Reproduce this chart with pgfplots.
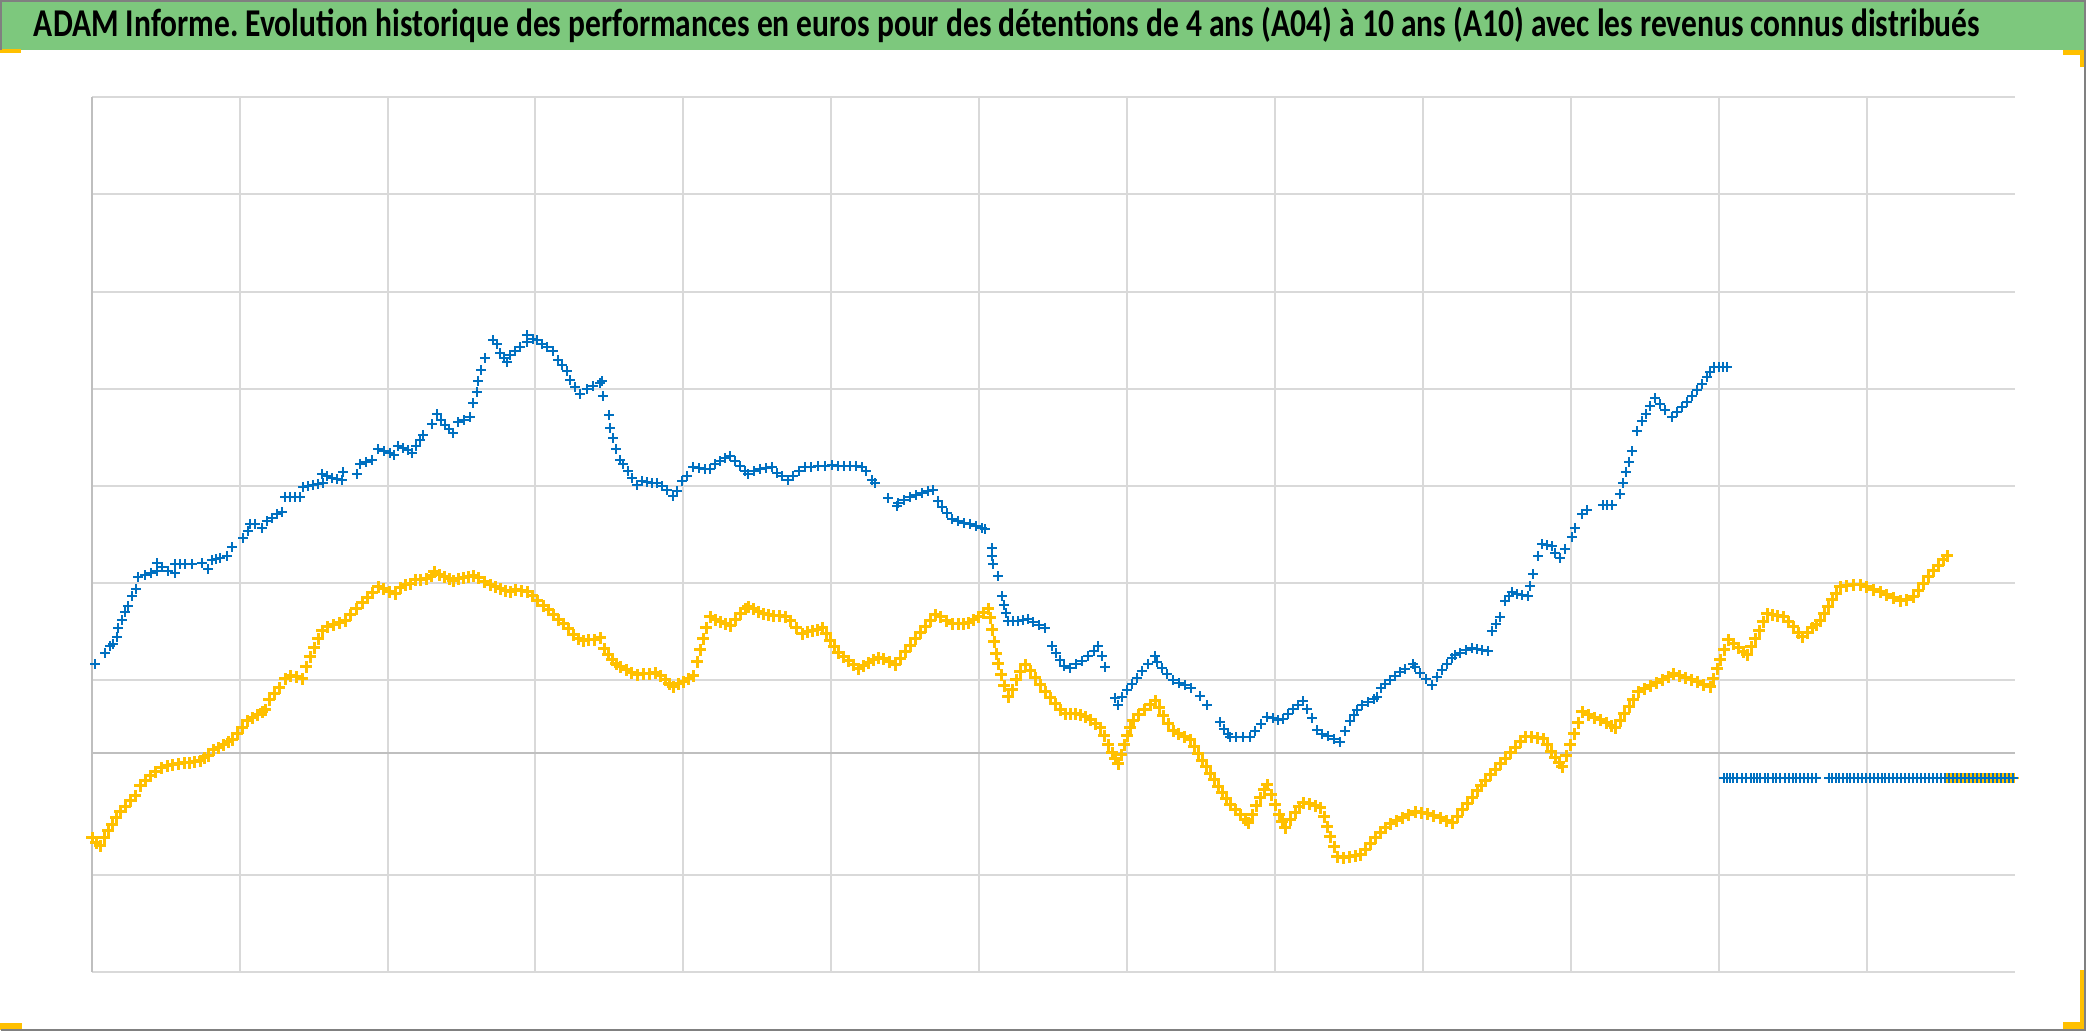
\documentclass[border=0pt]{standalone}
\usepackage{pgfplots}
\pgfplotsset{compat=1.18}
\usepackage{fontspec}
\usepackage{graphicx}
\newfontfamily\titlefont{Carlito}
\definecolor{titlegreen}{RGB}{125,200,125}
\definecolor{xlblue}{RGB}{0,112,192}
\definecolor{xlgold}{RGB}{255,192,0}
\definecolor{gridgray}{RGB}{217,217,217}
\definecolor{axisgray}{RGB}{191,191,191}
\definecolor{framegray}{RGB}{128,128,128}
\frenchspacing
\begin{document}
\begin{tikzpicture}
\useasboundingbox (0,0) rectangle (625.8pt,309.3pt);
\begin{scope}[x=0.3pt,y=0.3pt]
\fill[white] (0,0) rectangle (2086,1031);
\fill[titlegreen] (0,981) rectangle (2086,1031);
\node[anchor=base, inner sep=0pt] at (1007,994) {\resizebox{583.8pt}{!}{\scalebox{1}[1.25]{\titlefont\bfseries ADAM Informe. Evolution historique des performances en euros pour des détentions de 4 ans (A04) à 10 ans (A10) avec les revenus connus distribués}}};
\end{scope}
\begin{axis}[
  at={(27.6pt,17.7pt)}, anchor=south west,
  width=576.9pt, height=262.5pt, scale only axis,
  xmin=92, xmax=2015, ymin=97, ymax=972, y dir=reverse,
  axis line style={draw=none},
  xtick={240,388,535,683,831,979,1127,1275,1423,1571,1719,1867},
  ytick={97,194,292,389,486,583,680,875,972},
  xticklabels={}, yticklabels={},
  major tick length=0pt, tick style={draw=none},
  grid=major, grid style={color=gridgray, line width=0.45pt},
  extra x ticks={92}, extra y ticks={753},
  extra x tick labels={}, extra y tick labels={},
  extra tick style={grid=major, grid style={color=axisgray, line width=0.5pt}},
  clip=false,
]
\addplot[only marks, mark=+, mark size=1.7pt, color=xlgold, mark options={line width=0.9pt}] coordinates {
(92,838)(96,843)(100,846)(104,838)(108,831)(112,825)(116,818)(120,812)(125,807)(130,801)(135,796)(140,786)(145,781)(150,776)(155,772)(161,768)(167,766)(172,765)(178,764)(184,763)(189,763)(194,762)(200,761)(204,758)(208,756)(213,750)(218,748)(223,745)(228,742)(232,740)(237,734)(242,728)(247,721)(252,718)(257,715)(262,712)(265,710)(269,700)(274,694)(279,688)(285,679)(290,676)(296,677)(302,679)(306,667)(310,657)(314,648)(318,639)(322,631)(327,627)(333,625)(339,623)(345,621)(350,615)(356,609)(362,603)(367,598)(372,593)(378,587)(383,589)(389,592)(395,594)(400,588)(405,585)(410,584)(415,580)(420,580)(426,579)(431,576)(434,572)(439,575)(444,577)(449,579)(453,581)(458,579)(463,578)(468,577)(473,576)(478,578)(484,582)(490,585)(495,587)(500,589)(505,591)(510,592)(515,590)(521,591)(527,592)(532,596)(537,601)(543,606)(548,610)(553,615)(558,620)(563,624)(568,629)(573,635)(578,639)(583,641)(588,640)(594,640)(600,638)(604,649)(608,655)(612,660)(616,664)(620,667)(626,670)(631,673)(637,675)(643,674)(649,674)(655,673)(660,676)(665,680)(669,684)(673,687)(678,684)(683,682)(688,679)(693,676)(697,662)(700,650)(703,639)(706,628)(710,617)(715,620)(720,622)(725,624)(730,626)(735,620)(740,614)(745,609)(748,607)(753,609)(758,612)(763,614)(768,615)(773,616)(779,616)(785,617)(790,621)(796,628)(802,634)(807,632)(812,631)(817,630)(822,628)(826,634)(830,641)(834,647)(838,653)(843,657)(848,661)(853,665)(858,669)(863,666)(868,663)(873,660)(878,658)(883,659)(889,662)(895,665)(900,659)(905,652)(910,646)(915,639)(920,633)(925,627)(930,621)(935,615)(940,617)(946,621)(952,624)(958,624)(963,624)(968,623)(973,620)(978,617)(983,613)(988,609)(990,618)(992,630)(994,642)(996,654)(998,664)(1001,675)(1004,686)(1008,697)(1012,690)(1016,680)(1020,672)(1025,665)(1030,671)(1035,678)(1040,685)(1045,692)(1050,698)(1055,704)(1060,710)(1065,714)(1070,714)(1075,714)(1080,715)(1085,717)(1090,720)(1095,724)(1100,728)(1104,736)(1108,745)(1112,753)(1115,759)(1118,764)(1121,755)(1124,745)(1127,736)(1130,728)(1133,721)(1138,715)(1144,710)(1150,705)(1155,701)(1159,708)(1163,716)(1168,724)(1173,731)(1178,734)(1184,737)(1190,740)(1194,747)(1198,754)(1202,761)(1206,767)(1210,774)(1214,780)(1218,787)(1222,793)(1226,799)(1230,805)(1235,810)(1240,815)(1245,820)(1248,823)(1252,815)(1256,806)(1260,798)(1264,790)(1267,785)(1271,795)(1275,805)(1279,815)(1282,822)(1285,828)(1290,820)(1295,813)(1299,807)(1303,803)(1309,804)(1315,806)(1320,808)(1324,817)(1327,827)(1330,837)(1334,847)(1337,857)(1343,858)(1349,857)(1355,856)(1360,855)(1365,850)(1370,844)(1375,838)(1380,833)(1385,828)(1390,824)(1396,821)(1402,818)(1408,815)(1415,812)(1421,813)(1427,814)(1433,816)(1440,818)(1446,821)(1452,823)(1457,817)(1462,810)(1467,804)(1472,798)(1477,791)(1481,786)(1485,781)(1490,775)(1495,770)(1500,764)(1505,759)(1510,753)(1515,748)(1520,742)(1525,737)(1531,737)(1537,738)(1543,739)(1547,745)(1551,752)(1555,758)(1559,763)(1562,767)(1566,756)(1570,745)(1574,734)(1578,723)(1582,712)(1588,715)(1594,718)(1600,720)(1606,723)(1611,726)(1615,728)(1620,721)(1624,714)(1629,707)(1633,700)(1638,692)(1644,689)(1650,686)(1656,683)(1662,680)(1668,677)(1673,674)(1679,676)(1685,678)(1691,680)(1697,682)(1703,685)(1710,687)(1713,679)(1717,669)(1720,660)(1724,650)(1728,640)(1733,644)(1738,648)(1743,652)(1747,655)(1751,647)(1755,639)(1759,631)(1763,622)(1767,614)(1772,615)(1777,616)(1783,617)(1788,622)(1793,627)(1798,633)(1802,637)(1807,633)(1812,628)(1816,625)(1820,621)(1824,614)(1828,607)(1832,600)(1836,594)(1840,587)(1846,586)(1853,585)(1860,585)(1866,587)(1873,590)(1880,592)(1886,595)(1893,598)(1900,601)(1906,600)(1913,597)(1918,591)(1923,584)(1928,577)(1933,571)(1938,566)(1943,560)(1947,556)
};
\addplot[only marks, mark=+, mark size=1.6pt, color=xlgold, mark options={line width=0.8pt}] coordinates {
(1947,778)(1951,778)(1955,778)(1959,778)(1963,778)(1967,778)(1971,778)(1975,778)(1979,778)(1983,778)(1987,778)(1991,778)(1995,778)(1999,778)(2003,778)(2007,778)(2011,778)(2014,778)
};
\addplot[only marks, mark=+, mark size=1.4pt, color=xlblue, mark options={line width=0.7pt}] coordinates {
(95,664)(105,653)(110,646)(113,644)(117,637)(118,628)(122,620)(125,612)(128,606)(132,596)(136,589)(138,577)(145,575)(151,573)(157,571)(157,563)(162,567)(168,571)(175,573)(175,564)(180,564)(185,564)(192,564)(202,563)(208,569)(212,560)(216,559)(220,558)(227,556)(232,547)(243,538)(248,531)(250,524)(255,524)(262,528)(267,521)(272,518)(277,514)(282,512)(285,497)(290,497)(295,497)(300,497)(303,487)(308,486)(313,485)(318,484)(323,483)(322,474)(327,476)(332,478)(337,479)(342,480)(343,472)(357,474)(360,464)(366,462)(372,460)(378,449)(384,451)(390,453)(394,455)(398,446)(403,448)(408,450)(412,453)(416,446)(420,440)(423,435)(432,424)(437,414)(441,420)(445,425)(449,429)(453,433)(458,422)(464,420)(470,417)(473,403)(477,392)(478,381)(481,370)(485,358)(493,340)(497,344)(500,353)(504,358)(507,362)(510,355)(515,351)(520,347)(527,342)(527,335)(533,339)(537,340)(542,344)(547,347)(553,351)(558,360)(562,365)(567,371)(570,380)(575,387)(580,394)(587,389)(593,386)(600,383)(602,381)(603,396)(609,415)(610,428)(613,438)(616,449)(620,460)(623,464)(628,471)(632,478)(637,485)(642,481)(647,482)(652,483)(657,483)(662,486)(667,490)(673,496)(677,491)(682,481)(687,476)(693,467)(699,468)(705,469)(710,469)(715,464)(720,461)(725,458)(730,456)(735,461)(740,466)(745,471)(748,474)(754,471)(760,469)(766,468)(772,467)(777,473)(782,476)(788,480)(793,476)(799,471)(805,467)(811,467)(818,466)(825,466)(832,465)(838,466)(844,466)(850,466)(856,466)(862,467)(866,471)(872,480)(875,483)(888,498)(897,506)(898,503)(904,500)(910,497)(916,495)(922,493)(928,491)(933,490)(938,501)(942,507)(947,513)(952,519)(958,521)(964,523)(970,524)(976,526)(982,528)(985,529)(992,548)(992,556)(993,564)(998,576)(1002,596)(1004,605)(1006,613)(1008,621)(1013,621)(1018,621)(1023,620)(1028,619)(1033,622)(1039,625)(1045,628)(1052,646)(1056,653)(1060,660)(1064,666)(1070,668)(1076,664)(1082,661)(1088,656)(1094,651)(1098,646)(1102,656)(1105,667)(1115,698)(1118,705)(1122,697)(1127,690)(1132,684)(1137,678)(1142,671)(1148,664)(1155,656)(1157,662)(1162,668)(1167,674)(1173,680)(1179,683)(1185,685)(1191,688)(1200,696)(1207,705)(1220,722)(1224,729)(1228,734)(1230,737)(1236,737)(1243,737)(1250,737)(1255,731)(1261,724)(1267,717)(1273,718)(1278,720)(1283,719)(1288,714)(1293,709)(1298,705)(1303,701)(1307,709)(1312,718)(1317,730)(1322,734)(1328,736)(1334,739)(1340,742)(1345,731)(1350,721)(1354,715)(1357,710)(1362,705)(1368,702)(1374,699)(1377,697)(1381,688)(1385,684)(1390,680)(1395,676)(1400,672)(1405,669)(1413,664)(1415,667)(1420,673)(1426,679)(1432,685)(1437,677)(1442,670)(1447,664)(1452,658)(1455,655)(1460,653)(1466,650)(1472,648)(1477,649)(1482,650)(1488,651)(1492,631)(1496,624)(1500,617)(1505,601)(1509,596)(1512,592)(1517,594)(1522,595)(1528,596)(1530,586)(1533,574)(1538,556)(1542,544)(1547,545)(1552,546)(1555,553)(1560,558)(1565,549)(1572,537)(1575,528)(1582,514)(1587,510)(1603,505)(1607,505)(1612,505)(1620,494)(1623,483)(1626,472)(1629,462)(1632,451)(1637,431)(1642,421)(1646,414)(1650,406)(1655,398)(1660,404)(1665,410)(1672,417)(1677,412)(1682,407)(1687,402)(1692,396)(1697,390)(1702,384)(1707,377)(1710,372)(1714,367)(1719,367)(1723,367)(1727,367)
};
\addplot[only marks, mark=+, mark size=1.4pt, color=xlblue, mark options={line width=0.7pt}] coordinates {
(1724,778)(1727,778)(1730,778)(1733,778)(1737,778)(1742,778)(1746,778)(1751,778)(1754,778)(1757,778)(1760,778)(1765,778)(1768,778)(1773,778)(1776,778)(1780,778)(1785,778)(1789,778)(1793,778)(1796,778)(1800,778)(1804,778)(1808,778)(1812,778)(1816,778)(1829,778)(1832,778)(1836,778)(1839,778)(1843,778)(1847,778)(1850,778)(1854,778)(1858,778)(1862,778)(1866,778)(1870,778)(1874,778)(1878,778)(1882,778)(1885,778)(1889,778)(1893,778)(1897,778)(1901,778)(1905,778)(1909,778)(1913,778)(1917,778)(1921,778)(1925,778)(1929,778)(1933,778)(1937,778)(1941,778)(1945,778)(1949,778)(1953,778)(1957,778)(1961,778)(1965,778)(1969,778)(1973,778)(1977,778)(1981,778)(1985,778)(1989,778)(1993,778)(1997,778)(2001,778)(2005,778)(2009,778)(2013,778)
};
\end{axis}
\begin{scope}[x=0.3pt,y=0.3pt]
\fill[xlgold] (0,978) rectangle (21,982);
\fill[xlgold] (2063,976) rectangle (2086,981);
\fill[xlgold] (2080,964) rectangle (2086,981);
\fill[xlgold] (0,1) rectangle (22,8);
\fill[xlgold] (2080,8) rectangle (2086,61);
\fill[xlgold] (2063,1) rectangle (2086,9);
\draw[framegray, line width=0.6pt] (1,981) -- (1,1030) -- (2085,1030) -- (2085,1) -- (1,1);
\end{scope}
\end{tikzpicture}
\end{document}
